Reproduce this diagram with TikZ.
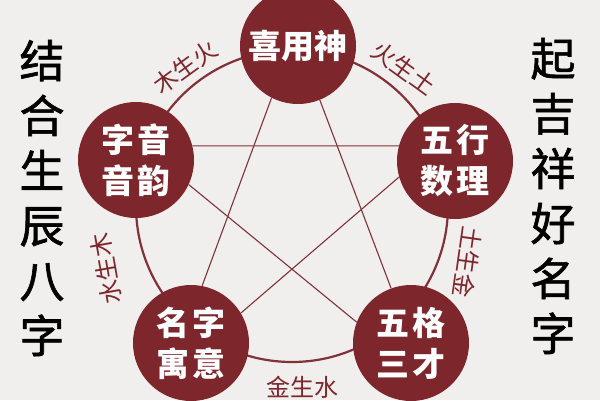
\documentclass[tikz,border=0pt]{standalone}
\usepackage{fontspec}
\newfontfamily\cjk{Noto Sans CJK SC}
\newfontfamily\cjkside[FakeBold=1.3]{Noto Sans CJK SC}
\definecolor{bg}{RGB}{240,239,237}
\definecolor{wine}{RGB}{125,38,44}
\definecolor{lineclr}{RGB}{128,50,56}
\begin{document}
\begin{tikzpicture}[x=1pt,y=-1pt,
  wuxing/.style={circle, fill=wine, text=white, minimum size=116pt, inner sep=0pt,
    font=\cjk\bfseries\fontsize{33}{41}\selectfont, align=center},
  ringline/.style={draw=lineclr, line width=2.2pt},
  starline/.style={draw=lineclr, line width=1.1pt},
  arclabel/.style={text=wine, font=\cjk\fontsize{24}{24}\selectfont, inner sep=0pt},
  sidetext/.style={text=black, font=\cjkside\fontsize{45}{55}\selectfont, align=center, inner sep=0pt}]
\fill[bg] (0,0) rectangle (600,400);
\useasboundingbox (0,0) rectangle (600,400);
% ring
\draw[ringline] (292,206) circle[radius=156];
% element nodes
\node[wuxing] (T)  at (298,46)  {喜用神};
\node[wuxing] (L)  at (136,160) {字\hspace{3pt}音\\音\hspace{3pt}韵};
\node[wuxing] (R)  at (455,161) {五\hspace{3pt}行\\数\hspace{3pt}理};
\node[wuxing] (BL) at (191,343) {名\hspace{3pt}字\\寓\hspace{3pt}意};
\node[wuxing] (BR) at (411,343) {五\hspace{3pt}格\\三\hspace{3pt}才};
% star
\draw[starline] (T.-117) -- (BL.79);
\draw[starline] (T.-68) -- (BR.110);
\draw[starline] (L.14) -- (R.165);
\draw[starline] (L.-25) -- (BR.159);
\draw[starline] (R.-164) -- (BL.31);
% ring labels
\node[arclabel, rotate=36]   (l1) at (185,67)  {木生火};
\node[arclabel, rotate=-36]  (l2) at (404,68)  {火生土};
\node[arclabel, rotate=-98]  (l3) at (468,262) {土生金};
\node[arclabel]              (l4) at (302,387) {金生水};
\node[arclabel, rotate=100]  (l5) at (106,269) {水生木};
% side texts
\node[sidetext] (left)  at (42,198)  {结\\合\\生\\辰\\八\\字};
\node[sidetext] (right) at (553,196) {起\\吉\\祥\\好\\名\\字};
\end{tikzpicture}
\end{document}
